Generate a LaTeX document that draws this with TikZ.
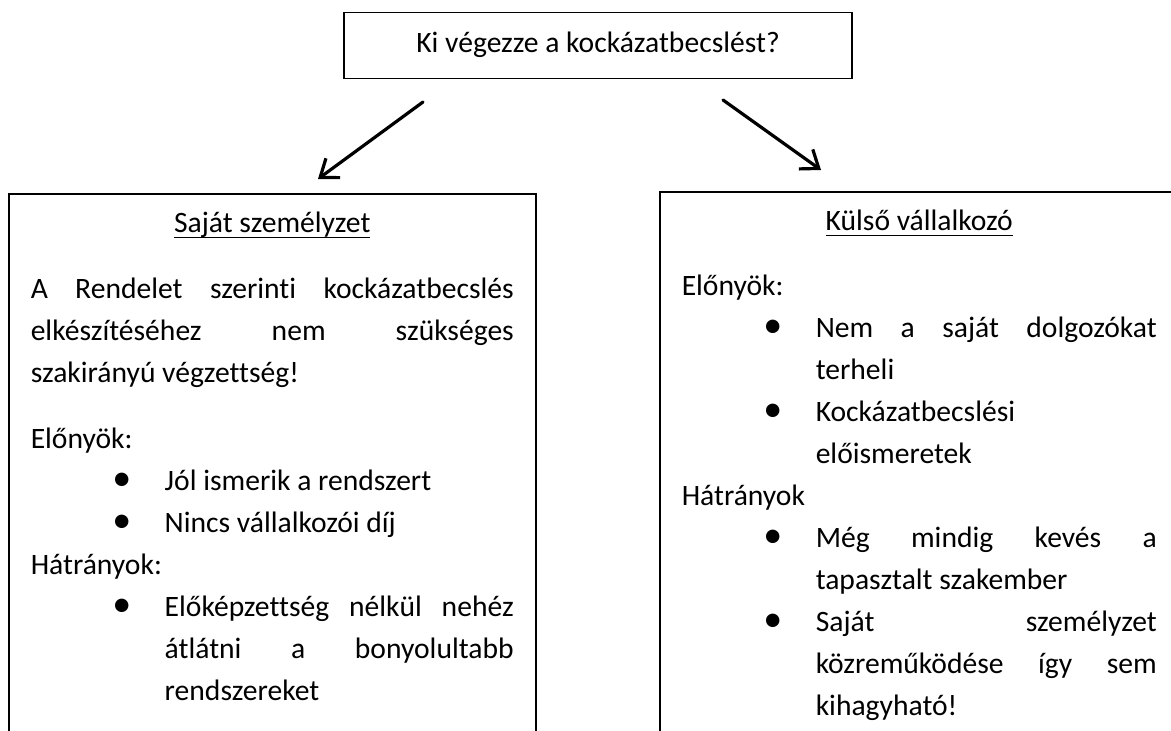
\documentclass[tikz,border=0pt]{standalone}
\usepackage{fontspec}
\setmainfont{Carlito}[Ligatures=CommonOff]
\usetikzlibrary{arrows.meta}

\newcommand\boxfont{\fontsize{29.6pt}{42pt}\selectfont}
\newcommand\boxsetup{\boxfont\parindent=0pt\leftskip=0pt\rightskip=0pt%
  \spaceskip=\fontdimen2\font plus 1fil\relax
  \parfillskip=0pt plus 1fill\relax\frenchspacing}
\newcommand\ttl[1]{\makebox[\linewidth]{\setbox0=\hbox{#1}\rlap{\rule[-5.5pt]{\wd0}{1.6pt}}\box0}\par}
\newcommand\bul{\par\hangindent=134pt\hangafter=1\relax
  \makebox[134pt][l]{\hspace{91pt}\makebox[0pt]{\fontsize{38pt}{38pt}\selectfont •}}}

\begin{document}
\begin{tikzpicture}[x=1pt, y=-1pt,
    qbox/.style={draw, line width=1.5pt, minimum width=508pt, minimum height=66pt,
      inner sep=0pt, font=\boxfont, text height=20pt, text depth=6pt},
    panel/.style={draw, line width=1.5pt, inner xsep=22pt, inner ysep=0pt,
      text height=39pt, text depth=620pt, anchor=north west},
    pointer/.style={line width=3.2pt, line cap=round,
      -{Straight Barb[length=16pt, width=24pt]}}]
    \useasboundingbox (0,0) rectangle (1171,731);
    \clip (0,0) rectangle (1171,731);

    \node[qbox] (ask) at (598,45.5) {Ki végezze a kockázatbecslést?};

    % Left column
    \node[panel, text width=483pt] (own) at (8,193) {\boxsetup
      \ttl{Saját személyzet}
      \vspace{24pt}
      A Rendelet szerinti kockázatbecslés\break
      elkészítéséhez nem szükséges\break
      szakirányú végzettség!\par
      \vspace{24pt}
      Előnyök:
      \bul Jól ismerik a rendszert
      \bul Nincs vállalkozói díj
      \par Hátrányok:
      \bul Előképzettség nélkül nehéz\break
      átlátni a bonyolultabb\break
      rendszereket\par};

    % Right column
    \node[panel, text width=475pt] (ext) at (659,191) {\boxsetup
      \ttl{Külső vállalkozó}
      \vspace{23pt}
      Előnyök:
      \bul Nem a saját dolgozókat\break
      terheli
      \bul Kockázatbecslési\hfil\break
      előismeretek
      \par Hátrányok
      \bul Még mindig kevés a\break
      tapasztalt szakember
      \bul Saját személyzet\break
      közreműködése így sem\break
      kihagyható!\par};

    \coordinate (askL) at (423,102);
    \coordinate (ownIn) at (318,179);
    \coordinate (askR) at (723,100);
    \coordinate (extIn) at (821,170);
    \draw[pointer] (askL) -- (ownIn);
    \draw[pointer] (askR) -- (extIn);
\end{tikzpicture}
\end{document}
